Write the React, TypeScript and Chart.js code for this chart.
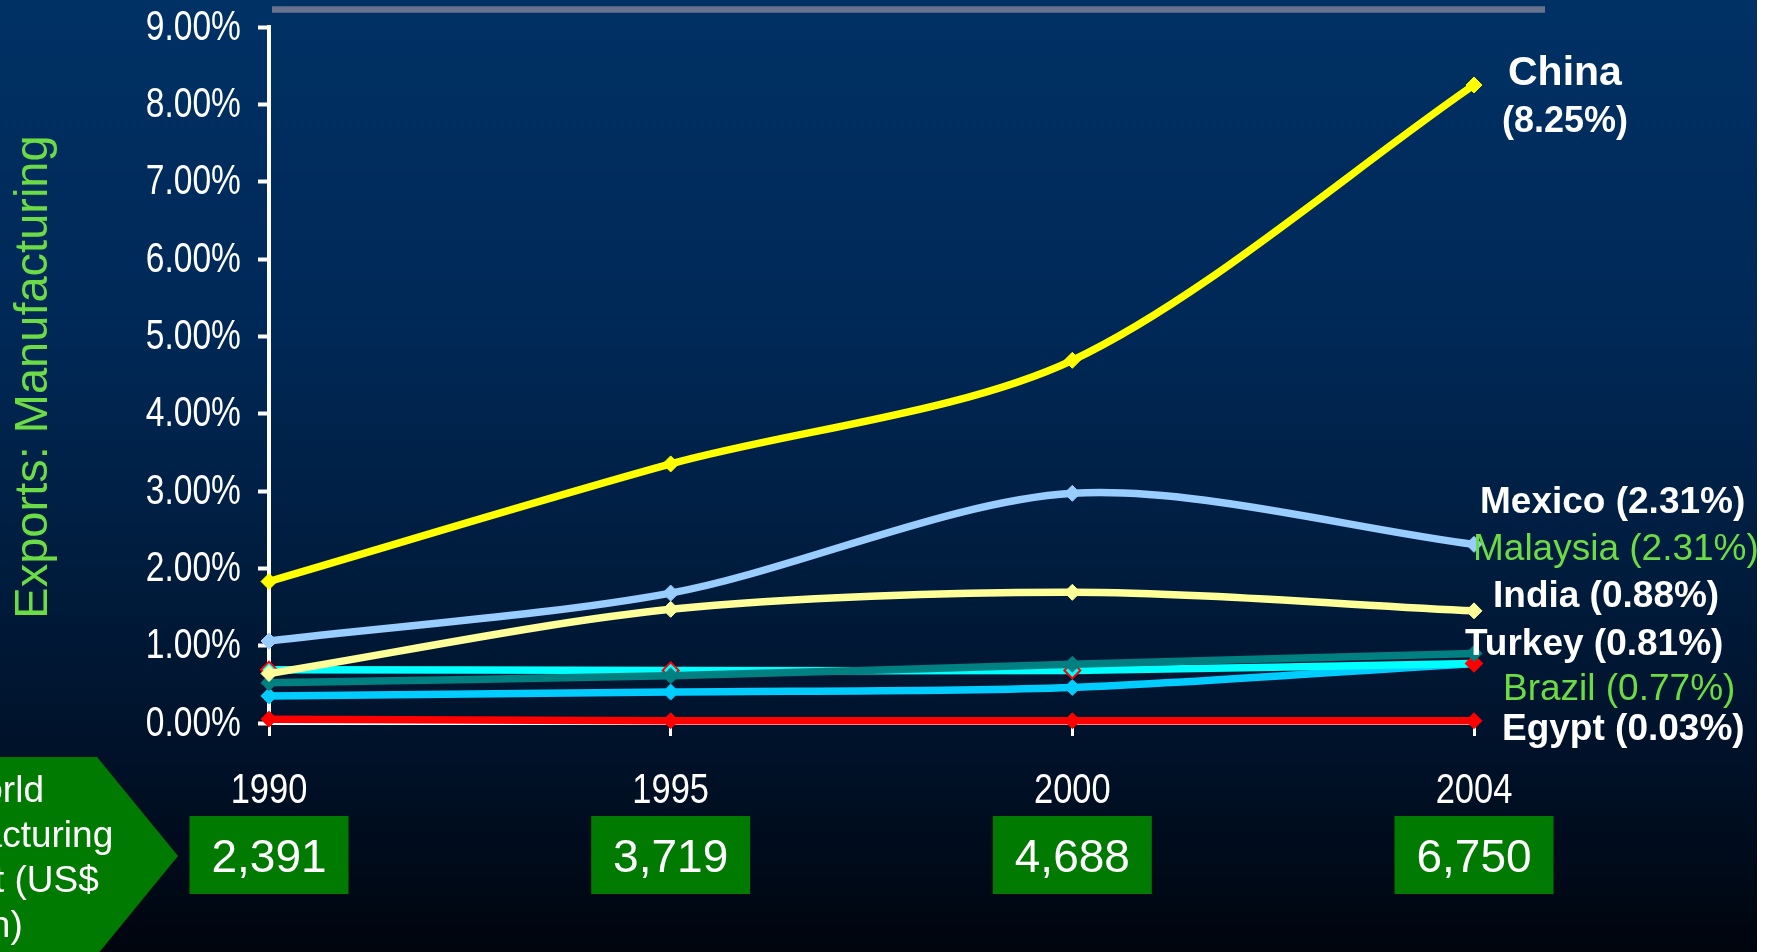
import React, { useEffect, useRef } from 'react';
import { Chart, registerables } from 'chart.js';

Chart.register(...registerables);

// ---------- data ----------
const years = ['1990', '1995', '2000', '2004'];
const chinaShare = [1.83, 3.35, 4.69, 8.25];
const mexicoShare = [1.06, 1.68, 2.97, 2.31];
const indiaShare = [0.64, 1.47, 1.69, 1.45];
const egyptShare = [0.05, 0.03, 0.03, 0.03];
const turkeyShare = [0.52, 0.61, 0.76, 0.9];
const brazilShare = [0.69, 0.68, 0.68, 0.77];
const malaysiaShare = [0.35, 0.4, 0.46, 0.77];
const yTickValues = [0, 1, 2, 3, 4, 5, 6, 7, 8, 9];
const worldOutput = ['2,391', '3,719', '4,688', '6,750'];
const worldOutputTitle = ['World', 'Manufacturing', 'Output (US$', 'bn)'];
const yAxisTitle = 'Exports: Manufacturing';
const chinaLabel = ['China', '(8.25%)'];
const endLabelTexts = [
  'Mexico (2.31%)',
  'Malaysia (2.31%)',
  'India (0.88%)',
  'Turkey (0.81%)',
  'Brazil (0.77%)',
  'Egypt (0.03%)',
];

// ---------- styling / layout ----------
const W = 1757;
const H = 952;
const REG = "'Liberation Sans', Arial, sans-serif";
const GREEN_TEXT = '#6CDC46';
const BOX_GREEN = '#007A00';

const endLabelLayout = [
  { x: 1480, y: 513, bold: true, color: '#FFFFFF' },
  { x: 1473, y: 560, bold: false, color: GREEN_TEXT },
  { x: 1493, y: 607, bold: true, color: '#FFFFFF' },
  { x: 1465, y: 655, bold: true, color: '#FFFFFF' },
  { x: 1503, y: 700, bold: false, color: GREEN_TEXT },
  { x: 1502, y: 740, bold: true, color: '#FFFFFF' },
];

function narrowText(ctx: CanvasRenderingContext2D, text: string, x: number, y: number, sx: number) {
  ctx.save();
  ctx.scale(sx, 1);
  ctx.fillText(text, x / sx, y);
  ctx.restore();
}

const decorPlugin = {
  id: 'decor',
  beforeDraw(chart: any) {
    const ctx = chart.ctx as CanvasRenderingContext2D;
    ctx.save();
    const g = ctx.createLinearGradient(0, 0, 0, H);
    g.addColorStop(0, '#003165');
    g.addColorStop(0.35, '#002856');
    g.addColorStop(0.6, '#001C3D');
    g.addColorStop(0.8, '#001128');
    g.addColorStop(1, '#00050E');
    ctx.fillStyle = g;
    ctx.fillRect(0, 0, W, H);

    // top grey rule
    ctx.strokeStyle = '#68728C';
    ctx.lineWidth = 6.5;
    ctx.beginPath();
    ctx.moveTo(272, 9.5);
    ctx.lineTo(1545, 9.5);
    ctx.stroke();

    // chevron
    ctx.fillStyle = BOX_GREEN;
    ctx.beginPath();
    ctx.moveTo(-10, 757);
    ctx.lineTo(97, 757);
    ctx.lineTo(178, 856);
    ctx.lineTo(97, 955);
    ctx.lineTo(-10, 955);
    ctx.closePath();
    ctx.fill();
    ctx.fillStyle = '#FFFFFF';
    ctx.font = `37px ${REG}`;
    ctx.textAlign = 'center';
    ctx.textBaseline = 'alphabetic';
    worldOutputTitle.forEach((t, i) => ctx.fillText(t, -4, 802 + i * 45));

    // output boxes under each category
    const xs = chart.scales.x;
    worldOutput.forEach((t, i) => {
      const cx = xs.getPixelForValue(i);
      ctx.fillStyle = BOX_GREEN;
      ctx.fillRect(cx - 79.5, 816, 159, 78);
      ctx.fillStyle = '#FFFFFF';
      ctx.font = `46px ${REG}`;
      ctx.textAlign = 'center';
      ctx.textBaseline = 'alphabetic';
      ctx.fillText(t, cx, 872);
    });
    ctx.restore();
  },
  afterDraw(chart: any) {
    const ctx = chart.ctx as CanvasRenderingContext2D;
    const xs = chart.scales.x;
    const ys = chart.scales.y;

    // axis tick labels (narrow face)
    ctx.save();
    ctx.fillStyle = '#FFFFFF';
    ctx.font = `42px ${REG}`;
    ctx.textAlign = 'right';
    ctx.textBaseline = 'middle';
    ys.ticks.forEach((t: any) => {
      narrowText(ctx, Number(t.value).toFixed(2) + '%', ys.right - 11 - 17, ys.getPixelForValue(t.value) + 1, 0.8);
    });
    ctx.textAlign = 'center';
    ctx.textBaseline = 'alphabetic';
    ctx.font = `42px ${REG}`;
    xs.ticks.forEach((t: any, i: number) => {
      narrowText(ctx, String(xs.getLabelForValue(t.value)), xs.getPixelForValue(i), 803, 0.82);
    });
    ctx.restore();

    // y axis title
    ctx.save();
    ctx.translate(34, 377);
    ctx.rotate(-Math.PI / 2);
    ctx.fillStyle = GREEN_TEXT;
    ctx.font = `47px ${REG}`;
    ctx.textAlign = 'center';
    ctx.textBaseline = 'middle';
    ctx.fillText(yAxisTitle, 0, 0);
    ctx.restore();

    ctx.save();
    ctx.textAlign = 'left';
    ctx.textBaseline = 'alphabetic';
    ctx.fillStyle = '#FFFFFF';
    ctx.font = `bold 41px ${REG}`;
    ctx.fillText(chinaLabel[0], 1508, 85);
    ctx.font = `bold 36px ${REG}`;
    ctx.fillText(chinaLabel[1], 1502, 132);
    endLabelTexts.forEach((t, i) => {
      const l = endLabelLayout[i];
      ctx.fillStyle = l.color;
      ctx.font = `${l.bold ? 'bold ' : ''}37px ${REG}`;
      ctx.fillText(t, l.x, l.y);
    });
    ctx.restore();
  },
};

function series(label: string, data: number[], color: string, extra: any = {}) {
  return {
    label,
    data,
    borderColor: color,
    backgroundColor: color,
    pointBackgroundColor: color,
    pointBorderColor: color,
    borderWidth: 7.5,
    pointStyle: 'rectRot',
    pointRadius: 8,
    pointBorderWidth: 1,
    tension: 0.3,
    clip: false,
    ...extra,
  };
}

export default function App() {
  const ref = useRef<HTMLCanvasElement | null>(null);
  useEffect(() => {
    if (!ref.current) return;
    const chart = new Chart(ref.current, {
      type: 'line',
      data: {
        labels: years,
        datasets: [
          series('China', chinaShare, '#FFFF00'),
          series('Mexico', mexicoShare, '#99CCFF'),
          series('India', indiaShare, '#FFFF99'),
          series('Egypt', egyptShare, '#FF0000'),
          series('Turkey', turkeyShare, '#008080'),
          series('Brazil', brazilShare, '#00FFFF', {
            pointBorderColor: '#FF0000',
            pointBorderWidth: 2,
            pointBackgroundColor: ['#00FFFF', '#00FFFF', '#00FFFF', '#FF0000'],
          }),
          series('Malaysia', malaysiaShare, '#00CCFF'),
        ] as any,
      },
      options: {
        responsive: false,
        animation: false,
        devicePixelRatio: 1,
        layout: { padding: { left: 0, right: W - 1474, top: 27, bottom: 0 } },
        plugins: { legend: { display: false }, tooltip: { enabled: false } },
        scales: {
          x: {
            type: 'category',
            offset: false,
            grid: { drawOnChartArea: false, drawTicks: true, tickLength: 13, tickWidth: 3, tickColor: '#FFFFFF' },
            border: { display: true, color: '#FFFFFF', width: 3 },
            ticks: { display: false, autoSkip: false, maxRotation: 0 },
            afterFit: (s: any) => { s.height = H - 723; },
          },
          y: {
            min: yTickValues[0],
            max: yTickValues[yTickValues.length - 1],
            afterBuildTicks: (s: any) => { s.ticks = yTickValues.map((v) => ({ value: v })); },
            ticks: { display: false },
            grid: { drawOnChartArea: false, drawTicks: true, tickLength: 11, tickWidth: 4, tickColor: '#FFFFFF' },
            border: { display: true, color: '#FFFFFF', width: 4 },
            afterFit: (s: any) => { s.width = 269; },
          },
        },
      } as any,
      plugins: [decorPlugin],
    });
    return () => chart.destroy();
  }, []);
  return (
    <div style={{ position: 'absolute', left: 0, top: 0, width: W, height: H }}>
      <canvas ref={ref} width={W} height={H} style={{ display: 'block' }} />
    </div>
  );
}
